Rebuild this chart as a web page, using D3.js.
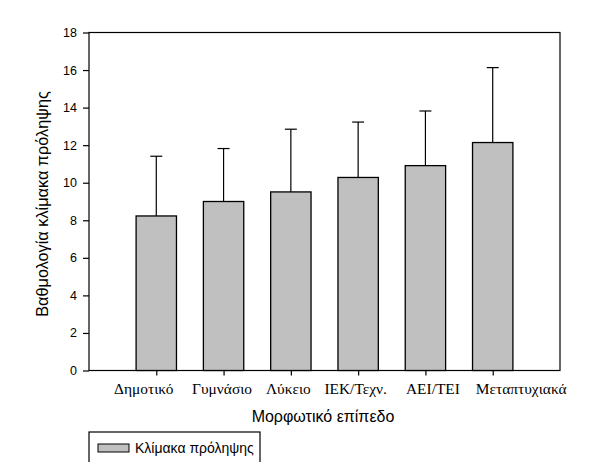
<!DOCTYPE html>
<html><head><meta charset="utf-8">
<script src="https://cdn.jsdelivr.net/npm/d3@7"></script>
<style>body{margin:0;background:#fff;}svg{display:block;}</style>
</head><body>
<svg id="c" width="614" height="462"></svg>
<script>
const categories = ["Δημοτικό","Γυμνάσιο","Λύκειο","ΙΕΚ/Τεχν.","ΑΕΙ/ΤΕΙ","Μεταπτυχιακά"];
const means = [8.23, 9.0, 9.51, 10.28, 10.91, 12.14];
const errTops = [11.41, 11.82, 12.85, 13.23, 13.82, 16.13];
const yTicks = [0,2,4,6,8,10,12,14,16,18];
const yTitle = "Βαθμολογία κλίμακα πρόληψης";
const xTitle = "Μορφωτικό επίπεδο";
const legendLabel = "Κλίμακα πρόληψης";

const svg = d3.select("#c");
const L = 89, R = 560, T = 32.5, B = 370.5;
const x = d3.scaleLinear().domain([0, categories.length + 1]).range([L, R]);
const y = d3.scaleLinear().domain([0, 18]).range([B, T]);
const step = x(1) - x(0);
const bw = step * 0.6;
// horizontal nudges of tick labels (layout only), as spread in the original
const labelShift = [-13, -2, -3, -3, 7, 28];

// frame
svg.append("rect").attr("x", L).attr("y", T).attr("width", R - L).attr("height", B - T)
  .attr("fill", "none").attr("stroke", "#000").attr("stroke-width", 1.2);

// bars
const g = svg.append("g");
categories.forEach((c, i) => {
  const cx = x(i + 1);
  g.append("line").attr("x1", cx).attr("x2", cx).attr("y1", y(means[i])).attr("y2", y(errTops[i]))
    .attr("stroke", "#000").attr("stroke-width", 1.2);
  g.append("line").attr("x1", cx - 6).attr("x2", cx + 6).attr("y1", y(errTops[i])).attr("y2", y(errTops[i]))
    .attr("stroke", "#000").attr("stroke-width", 1.2);
  g.append("rect").attr("x", cx - bw / 2).attr("y", y(means[i])).attr("width", bw).attr("height", y(0) - y(means[i]))
    .attr("fill", "#c0c0c0").attr("stroke", "#000").attr("stroke-width", 1.3);
});

// y axis
const ya = d3.axisLeft(y).tickValues(yTicks).tickSize(6).tickPadding(6).tickFormat(d3.format("d"));
svg.append("g").attr("transform", `translate(${L},0)`).call(ya)
  .call(s => s.select(".domain").remove())
  .call(s => s.selectAll("line").attr("stroke-width", 1.2))
  .call(s => s.selectAll("text").attr("font-family", "Arial, 'Liberation Sans', sans-serif").attr("font-size", 12.5).attr("fill", "#000"));

// x axis
const xa = d3.axisBottom(x).tickValues(categories.map((d, i) => i + 1)).tickSize(5).tickPadding(8)
  .tickFormat(d => categories[d - 1]);
svg.append("g").attr("transform", `translate(0,${B})`).call(xa)
  .call(s => s.select(".domain").remove())
  .call(s => s.selectAll("line").attr("stroke-width", 1.2))
  .call(s => s.selectAll("text").attr("font-family", "'Times New Roman', 'Liberation Serif', serif").attr("font-size", 15.4).attr("fill", "#000")
    .attr("dx", d => labelShift[d - 1]));

// titles
svg.append("text").attr("transform", `translate(48,${(88 + 320) / 2}) rotate(-90)`)
  .attr("text-anchor", "middle").attr("font-family", "Arial, 'Liberation Sans', sans-serif")
  .attr("font-size", 16.3).text(yTitle);
svg.append("text").attr("x", 323).attr("y", 422).attr("text-anchor", "middle")
  .attr("font-family", "Arial, 'Liberation Sans', sans-serif").attr("font-size", 16).text(xTitle);

// legend
svg.append("rect").attr("x", 89).attr("y", 432).attr("width", 171).attr("height", 40)
  .attr("fill", "#fff").attr("stroke", "#000").attr("stroke-width", 1.2);
svg.append("rect").attr("x", 98).attr("y", 444).attr("width", 31).attr("height", 8)
  .attr("fill", "#c0c0c0").attr("stroke", "#000").attr("stroke-width", 1);
svg.append("text").attr("x", 135).attr("y", 453).attr("font-family", "Arial, 'Liberation Sans', sans-serif")
  .attr("font-size", 14).text(legendLabel);
</script>
</body></html>
